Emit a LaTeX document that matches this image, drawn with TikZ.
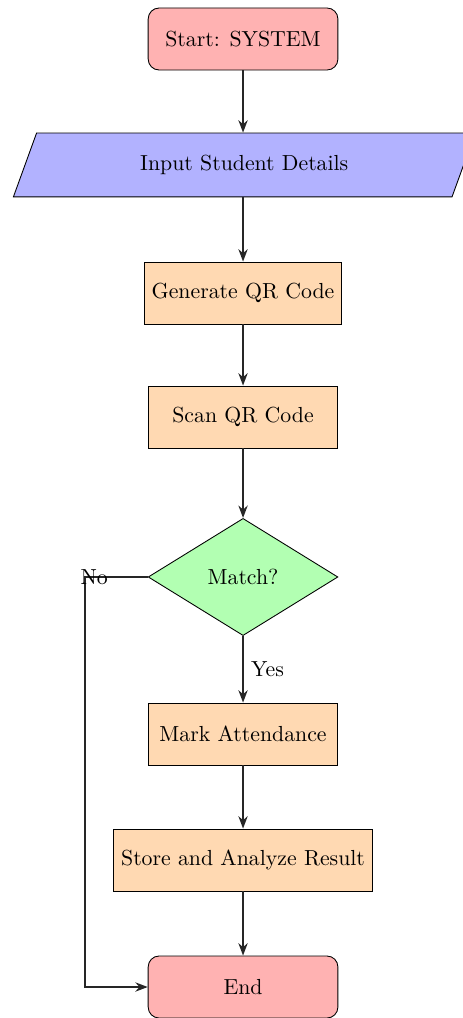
\documentclass[tikz,border=0pt]{standalone}
\usetikzlibrary{arrows.meta,positioning,shapes.geometric}

\begin{document}
\begin{tikzpicture}[
  >={Stealth[length=2mm,width=1.5mm]},
  terminal/.style={rectangle,rounded corners=5pt,draw=black,fill=red!30,minimum width=3.06cm,minimum height=1cm,align=center},
  iobox/.style={trapezium,trapezium left angle=70,trapezium right angle=110,trapezium stretches=true,draw=black,fill=blue!30,minimum width=7.45cm,minimum height=1.03cm,align=center},
  process/.style={rectangle,draw=black,fill=orange!30,minimum width=3.05cm,minimum height=1cm,align=center},
  decision/.style={diamond,draw=black,fill=green!30,aspect=1.6,minimum width=3.06cm,minimum height=1.89cm,align=center},
  edge/.style={->,thick,draw=black!85}
]
\useasboundingbox (0,0) rectangle (7.452,-16.419);
% Main column of the attendance flow; the "No" branch loops back round the left side to End.
\node[terminal] (start) at (3.92,-0.629) {Start: SYSTEM};
\node[iobox] (input) at (3.94,-2.661) {Input Student Details};
\node[process] (genqr) at (3.92,-4.726) {Generate QR Code};
\node[process] (scanqr) at (3.92,-6.726) {Scan QR Code};
\node[decision] (match) at (3.92,-9.306) {Match?};
\node[process] (mark) at (3.92,-11.839) {Mark Attendance};
\node[process] (store) at (3.92,-13.871) {Store and Analyze Result};
\node[terminal] (finish) at (3.92,-15.919) {End};
\coordinate (nocorner) at (1.371,-9.306);
\draw[edge] (start) -- (start.south |- input.north);
\draw[edge] (input.south -| genqr.north) -- (genqr);
\draw[edge] (genqr) -- (scanqr);
\draw[edge] (scanqr) -- (match);
\draw[edge] (match) -- node[right,pos=0.5] {Yes} (mark);
\draw[edge] (mark) -- (store);
\draw[edge] (store) -- (finish);
\draw[edge] (match.west) -- (nocorner) |- (finish.west);
\node (nolabel) at (1.52,-9.306) {No};
\end{tikzpicture}
\end{document}
